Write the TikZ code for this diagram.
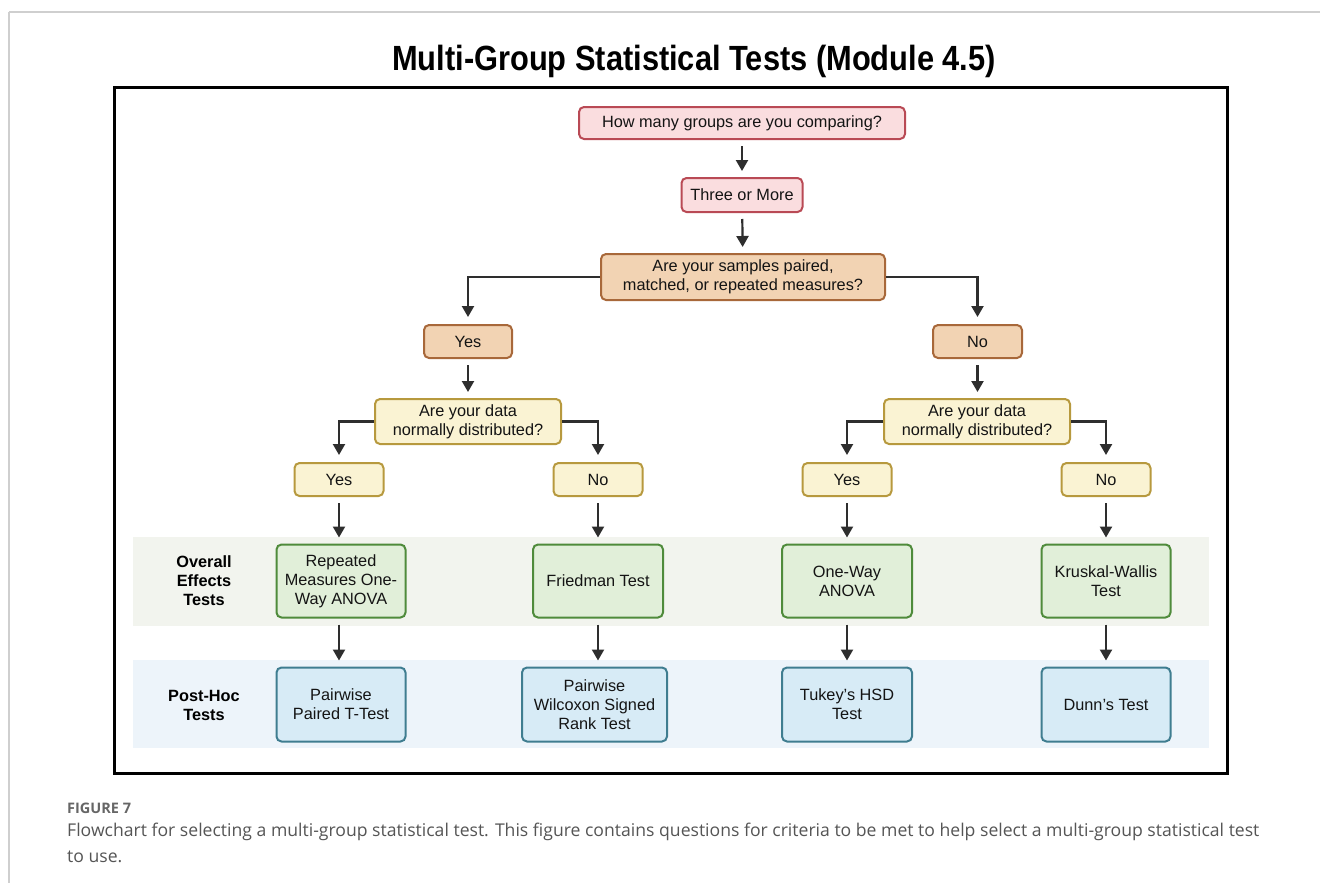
\documentclass[tikz,border=0pt]{standalone}
\usepackage{fontspec}
\setmainfont{Liberation Sans}
\newfontfamily\capfont{Open Sans}
\usetikzlibrary{arrows.meta}

\definecolor{pinkfill}{HTML}{FADDDF}
\definecolor{pinkline}{HTML}{B94A55}
\definecolor{tanfill}{HTML}{F2D3B3}
\definecolor{tanline}{HTML}{A8683A}
\definecolor{yelfill}{HTML}{FAF3D3}
\definecolor{yelline}{HTML}{B7993E}
\definecolor{grnfill}{HTML}{E1EFD9}
\definecolor{grnline}{HTML}{4F8B3B}
\definecolor{blufill}{HTML}{D7EBF6}
\definecolor{bluline}{HTML}{3F7D90}
\definecolor{bandgrn}{HTML}{F2F4EE}
\definecolor{bandblu}{HTML}{EDF4FA}
\definecolor{framegray}{HTML}{CFCFCF}
\definecolor{capgray}{HTML}{555555}
\definecolor{arrowgray}{HTML}{2E2E2E}

\tikzset{
  box/.style={rectangle, rounded corners=5pt, line width=2pt, align=center,
    inner sep=0pt, font=\fontsize{16.3}{19}\selectfont, text=black!92},
  pinkbox/.style={box, draw=pinkline, fill=pinkfill},
  tanbox/.style={box, draw=tanline, fill=tanfill},
  yelbox/.style={box, draw=yelline, fill=yelfill},
  grnbox/.style={box, draw=grnline, fill=grnfill, minimum width=129pt, minimum height=73pt},
  blubox/.style={box, draw=bluline, fill=blufill, minimum width=129pt, minimum height=74pt},
  answer/.style={yelbox, minimum width=89pt, minimum height=33pt},
  arr/.style={-{Triangle[width=12pt,length=11pt]}, line width=2.2pt, draw=arrowgray},
  gap/.style={shorten <=6pt, shorten >=6pt},
  rowlabel/.style={align=center, font=\bfseries\fontsize{16.3}{19}\selectfont},
}

\begin{document}
\begin{tikzpicture}[x=1pt, y=-1pt]
\useasboundingbox (0,0) rectangle (1320,883);
\fill[white] (0,0) rectangle (1320,883);

% page frame
\draw[framegray, line width=1.5pt] (9,12) -- (1320,12);
\draw[framegray, line width=1.5pt] (9,12) -- (9,883);

% title
\node (title) at (694,61) {\scalebox{0.88}[1]{\bfseries\fontsize{35}{40}\selectfont Multi-Group Statistical Tests (Module 4.5)}};

% outer frame
\draw[black, line width=3pt] (114,87) rectangle (1227,773);

% row bands
\fill[bandgrn] (133,537) rectangle (1209,626);
\fill[bandblu] (133,660) rectangle (1209,748);
\node[rowlabel] (lab1) at (204,581) {Overall\\Effects\\Tests};
\node[rowlabel] (lab2) at (204,705) {Post-Hoc\\Tests};

% question chain
\node[pinkbox, minimum width=326pt, minimum height=32pt] (q1) at (742,123) {How many groups are you comparing?};
\node[pinkbox, minimum width=121pt, minimum height=34pt] (three) at (742,195) {Three or More};
\node[tanbox, minimum width=284pt, minimum height=46pt] (q2) at (743,277) {Are your samples paired,\\matched, or repeated measures?};

\node[tanbox, minimum width=88pt, minimum height=33pt] (yesA) at (468,341.5) {Yes};
\node[tanbox, minimum width=89pt, minimum height=33pt] (noA) at (977.5,341.5) {No};

\node[yelbox, minimum width=186pt, minimum height=45pt] (dataL) at (468,421.5) {Are your data\\normally distributed?};
\node[yelbox, minimum width=186pt, minimum height=45pt] (dataR) at (977,421.5) {Are your data\\normally distributed?};

\node[answer] (yes1) at (339,479.5) {Yes};
\node[answer] (no1) at (598,479.5) {No};
\node[answer] (yes2) at (847,479.5) {Yes};
\node[answer] (no2) at (1106,479.5) {No};

% overall effects tests
\node[grnbox] (g1) at (341,581) {Repeated\\Measures One-\\Way ANOVA};
\node[grnbox, minimum width=130pt] (g2) at (598,581) {Friedman Test};
\node[grnbox, minimum width=130pt] (g3) at (847,581) {One-Way\\ANOVA};
\node[grnbox] (g4) at (1106,581) {Kruskal-Wallis\\Test};

% post-hoc tests
\node[blubox] (b1) at (341,704.5) {Pairwise\\Paired T-Test};
\node[blubox, minimum width=145pt] (b2) at (594.5,704.5) {Pairwise\\Wilcoxon Signed\\Rank Test};
\node[blubox, minimum width=130pt] (b3) at (847,704.5) {Tukey's HSD\\Test};
\node[blubox] (b4) at (1106,704.5) {Dunn's Test};

% connectors
\draw[arr, gap] (q1) -- (three);
\draw[arr, gap] (three) -- (q2);
\draw[arr, shorten >=7pt] (q2.west) -| (yesA.north);
\draw[arr, shorten >=7pt] (q2.east) -| (noA.north);
\draw[arr, gap] (yesA) -- (dataL);
\draw[arr, gap] (noA.south) -- (noA.south |- dataR.north);
\draw[arr, shorten >=7pt] (dataL.west) -| (yes1.north);
\draw[arr, shorten >=7pt] (dataL.east) -| (no1.north);
\draw[arr, shorten >=7pt] (dataR.west) -| (yes2.north);
\draw[arr, shorten >=7pt] (dataR.east) -| (no2.north);
\draw[arr, gap] (yes1.south) -- (yes1.south |- g1.north);
\draw[arr, gap] (no1) -- (g2);
\draw[arr, gap] (yes2) -- (g3);
\draw[arr, gap] (no2) -- (g4);
\draw[arr, gap] (yes1.south |- g1.south) -- (yes1.south |- b1.north);
\draw[arr, gap] (g2.south) -- (g2.south |- b2.north);
\draw[arr, gap] (g3) -- (b3);
\draw[arr, gap] (g4) -- (b4);

% caption
\node[anchor=base west, inner sep=0pt, text=capgray!90, font=\capfont\bfseries\fontsize{14.5}{16}\selectfont] (fig) at (67,813) {FIGURE 7};
\node[anchor=base west, inner sep=0pt, text=capgray, font=\capfont\fontsize{17.6}{20}\selectfont] (cap1) at (67,836) {Flowchart for selecting a multi-group statistical test. This figure contains questions for criteria to be met to help select a multi-group statistical test};
\node[anchor=base west, inner sep=0pt, text=capgray, font=\capfont\fontsize{17.6}{20}\selectfont] (cap2) at (67,862) {to use.};
\end{tikzpicture}
\end{document}
